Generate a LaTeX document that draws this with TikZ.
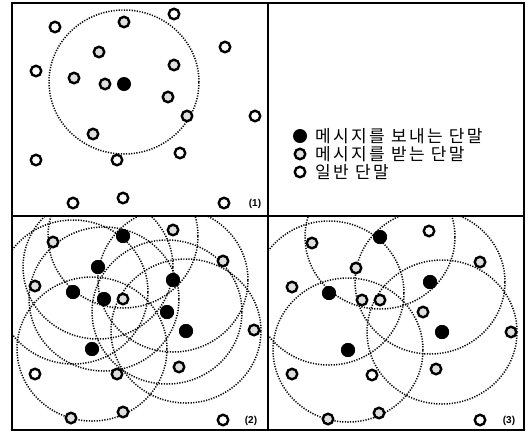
\documentclass[tikz,border=0pt]{standalone}
\usepackage{fontspec}
\newfontfamily\kfont[LetterSpace=14]{Noto Sans CJK KR}
\newfontfamily\lfont{Liberation Sans}
\usetikzlibrary{positioning}

\begin{document}
\begin{tikzpicture}[x=1pt, y=-1pt,
    snd/.style={circle, fill=black, minimum size=14pt, inner sep=0pt},
    rcv/.style={circle, draw, line width=2.4pt, fill=gray!25,
                minimum size=10.5pt, inner sep=0pt},
    idl/.style={circle, draw, line width=2.4pt, fill=white,
                minimum size=10.5pt, inner sep=0pt},
    rng/.style={line width=1.5pt, dash pattern=on 1.2pt off 1.4pt},
    lbl/.style={font=\lfont\bfseries\fontsize{10}{11}\selectfont},
    leg/.style={font=\kfont\fontsize{17}{19}\selectfont, anchor=west,
                inner sep=0pt}
  ]
  \useasboundingbox (0,0) rectangle (529,432);

  % ---- panel (1)
  \coordinate (c1) at (124,82);
  \begin{scope}
    \clip (12,3) rectangle (268,216);
    \draw[rng] (c1) ellipse [x radius=75pt, y radius=72pt];
  \end{scope}
  \node[snd] (s1)  at (124,84) {};
  \node[rcv] (r1a) at (124,22) {};
  \node[rcv] (r1b) at (99,52) {};
  \node[rcv] (r1c) at (74,78) {};
  \node[rcv] (r1d) at (105,84) {};
  \node[rcv] (r1e) at (174,65) {};
  \node[rcv] (r1f) at (168,97) {};
  \node[rcv] (r1g) at (187,116) {};
  \node[rcv] (r1h) at (93,134) {};
  \node[idl] (w1a) at (55,27) {};
  \node[idl] (w1b) at (174,14) {};
  \node[idl] (w1c) at (225,47) {};
  \node[idl] (w1d) at (36,71) {};
  \node[idl] (w1e) at (255,116) {};
  \node[idl] (w1f) at (36,160) {};
  \node[idl] (w1g) at (117,160) {};
  \node[idl] (w1h) at (180,153) {};
  \node[idl] (w1i) at (73,203) {};
  \node[idl] (w1j) at (123,198) {};
  \node[idl] (w1k) at (224,203) {};
  \node[lbl] (n1)  at (255,204) {(1)};

  % ---- legend
  \node[snd] (ks) at (300,136) {};
  \node[rcv] (kr) at (300,154) {};
  \node[idl] (kw) at (300,172) {};
  \node[leg] (ts) at (315,136) {메시지를 보내는 단말};
  \node[leg] (tr) at (315,154) {메시지를 받는 단말};
  \node[leg] (tw) at (315,172) {일반 단말};

  % ---- panel (2)
  \node[snd] (s2a) at (123,236) {};
  \node[snd] (s2b) at (98,267) {};
  \node[snd] (s2c) at (73,292) {};
  \node[snd] (s2d) at (104,299) {};
  \node[snd] (s2e) at (173,280) {};
  \node[snd] (s2f) at (167,312) {};
  \node[snd] (s2g) at (186,331) {};
  \node[snd] (s2h) at (92,349) {};
  \begin{scope}
    \clip (12,216) rectangle (268,430);
    \draw[rng] (s2a) ellipse [x radius=75pt, y radius=72pt];
    \draw[rng] (s2b) ellipse [x radius=75pt, y radius=72pt];
    \draw[rng] (s2c) ellipse [x radius=75pt, y radius=72pt];
    \draw[rng] (s2d) ellipse [x radius=75pt, y radius=72pt];
    \draw[rng] (s2e) ellipse [x radius=75pt, y radius=72pt];
    \draw[rng] (s2f) ellipse [x radius=75pt, y radius=72pt];
    \draw[rng] (s2g) ellipse [x radius=75pt, y radius=72pt];
    \draw[rng] (s2h) ellipse [x radius=75pt, y radius=72pt];
  \end{scope}
  \node[snd] at (s2a) {};
  \node[snd] at (s2b) {};
  \node[snd] at (s2c) {};
  \node[snd] at (s2d) {};
  \node[snd] at (s2e) {};
  \node[snd] at (s2f) {};
  \node[snd] at (s2g) {};
  \node[snd] at (s2h) {};
  \node[rcv] (r2a) at (173,230) {};
  \node[rcv] (r2b) at (53,242) {};
  \node[rcv] (r2c) at (223,261) {};
  \node[rcv] (r2d) at (35,286) {};
  \node[rcv] (r2e) at (123,299) {};
  \node[rcv] (r2f) at (254,330) {};
  \node[rcv] (r2g) at (117,374) {};
  \node[rcv] (r2h) at (179,367) {};
  \node[rcv] (r2i) at (71,418) {};
  \node[rcv] (r2j) at (123,412) {};
  \node[idl] (w2a) at (35,374) {};
  \node[idl] (w2b) at (223,420) {};
  \node[lbl] (n2)  at (251,421) {(2)};

  % ---- panel (3)
  \node[snd] (s3a) at (380,237) {};
  \node[snd] (s3b) at (329,293) {};
  \node[snd] (s3c) at (430,282) {};
  \node[snd] (s3d) at (442,332) {};
  \node[snd] (s3e) at (348,350) {};
  \begin{scope}
    \clip (268,216) rectangle (524,430);
    \draw[rng] (s3a) ellipse [x radius=75pt, y radius=72pt];
    \draw[rng] (s3b) ellipse [x radius=75pt, y radius=72pt];
    \draw[rng] (s3c) ellipse [x radius=75pt, y radius=72pt];
    \draw[rng] (s3d) ellipse [x radius=75pt, y radius=72pt];
    \draw[rng] (s3e) ellipse [x radius=75pt, y radius=72pt];
  \end{scope}
  \node[snd] at (s3a) {};
  \node[snd] at (s3b) {};
  \node[snd] at (s3c) {};
  \node[snd] at (s3d) {};
  \node[snd] at (s3e) {};
  \node[rcv] (r3a) at (312,243) {};
  \node[rcv] (r3b) at (480,262) {};
  \node[rcv] (r3c) at (356,268) {};
  \node[rcv] (r3d) at (292,287) {};
  \node[rcv] (r3e) at (362,300) {};
  \node[rcv] (r3f) at (380,300) {};
  \node[rcv] (r3g) at (423,312) {};
  \node[rcv] (r3h) at (511,332) {};
  \node[rcv] (r3i) at (292,374) {};
  \node[rcv] (r3j) at (436,369) {};
  \node[rcv] (r3k) at (328,419) {};
  \node[rcv] (r3l) at (379,413) {};
  \node[idl] (w3a) at (429,231) {};
  \node[idl] (w3b) at (372,375) {};
  \node[idl] (w3c) at (480,420) {};
  \node[lbl] (n3)  at (509,421) {(3)};

  % ---- frame
  \draw[line width=1.6pt] (12,3) rectangle (524,430);
  \draw[line width=1.6pt] (12,216) -- (524,216);
  \draw[line width=1.6pt] (268,3) -- (268,430);
\end{tikzpicture}
\end{document}
